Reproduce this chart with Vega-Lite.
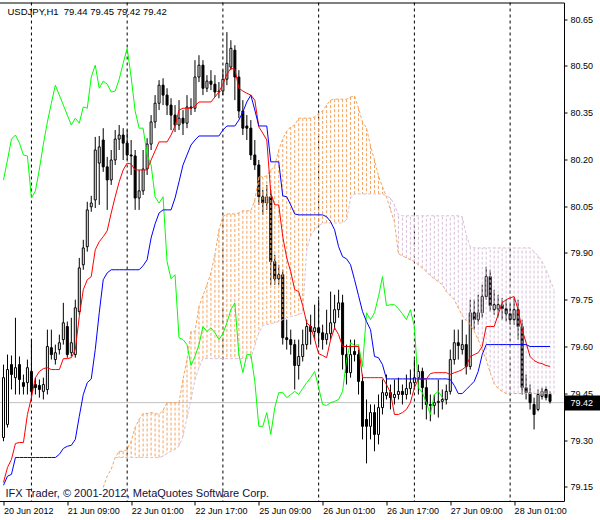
{
"$schema":"https://vega.github.io/schema/vega-lite/v6.json",
"width":600,"height":520,
"autosize":{"type":"fit","contains":"padding"},
"padding":{"left":-3.5,"top":1.5,"right":-8,"bottom":5},
"background":"white",
"resolve":{"axis":{"x":"independent","y":"independent"}},
"config":{"view":{"stroke":"black","strokeWidth":1},"axis":{"grid":false}},
"data":{"values":[
{"i":0,"o":79.308,"h":79.542,"l":79.296,"c":79.5,"t":79.164,"k":79.155,"ck":80.134},
{"i":1,"o":79.35,"h":79.574,"l":79.34,"c":79.526,"t":79.212,"k":79.184,"ck":80.198},
{"i":2,"o":79.542,"h":79.571,"l":79.462,"c":79.51,"t":79.238,"k":79.19,"ck":80.265},
{"i":3,"o":79.5,"h":79.692,"l":79.446,"c":79.532,"t":79.289,"k":79.244,"ck":80.278},
{"i":4,"o":79.542,"h":79.568,"l":79.446,"c":79.494,"t":79.292,"k":79.244,"ck":80.252},
{"i":5,"o":79.484,"h":79.51,"l":79.446,"c":79.472,"t":79.292,"k":79.244,"ck":80.214},
{"i":6,"o":79.484,"h":79.558,"l":79.446,"c":79.532,"t":79.382,"k":79.244,"ck":80.211},
{"i":7,"o":79.52,"h":79.622,"l":79.43,"c":79.456,"t":79.436,"k":79.244,"ck":80.076},
{"i":8,"o":79.478,"h":79.5,"l":79.446,"c":79.468,"t":79.5,"k":79.244,"ck":80.099},
{"i":9,"o":79.475,"h":79.494,"l":79.436,"c":79.462,"t":79.52,"k":79.244,"ck":80.169},
{"i":10,"o":79.456,"h":79.5,"l":79.43,"c":79.478,"t":79.529,"k":79.244,"ck":80.249},
{"i":11,"o":79.462,"h":79.654,"l":79.446,"c":79.6,"t":79.532,"k":79.244,"ck":80.32},
{"i":12,"o":79.596,"h":79.654,"l":79.558,"c":79.574,"t":79.526,"k":79.244,"ck":80.38},
{"i":13,"o":79.558,"h":79.606,"l":79.542,"c":79.58,"t":79.526,"k":79.244,"ck":80.438},
{"i":14,"o":79.59,"h":79.638,"l":79.574,"c":79.612,"t":79.526,"k":79.254,"ck":80.406},
{"i":15,"o":79.622,"h":79.74,"l":79.606,"c":79.676,"t":79.561,"k":79.273,"ck":80.374},
{"i":16,"o":79.664,"h":79.68,"l":79.564,"c":79.574,"t":79.561,"k":79.28,"ck":80.342},
{"i":17,"o":79.58,"h":79.692,"l":79.568,"c":79.612,"t":79.564,"k":79.283,"ck":80.31},
{"i":18,"o":79.574,"h":79.75,"l":79.564,"c":79.724,"t":79.59,"k":79.302,"ck":80.332},
{"i":19,"o":79.712,"h":79.884,"l":79.702,"c":79.852,"t":79.696,"k":79.376,"ck":80.316},
{"i":20,"o":79.862,"h":79.942,"l":79.846,"c":79.916,"t":79.782,"k":79.446,"ck":80.368},
{"i":21,"o":79.92,"h":80.064,"l":79.904,"c":80.038,"t":79.814,"k":79.484,"ck":80.364},
{"i":22,"o":80.048,"h":80.083,"l":80.032,"c":80.06,"t":79.824,"k":79.496,"ck":80.464},
{"i":23,"o":80.07,"h":80.272,"l":80.044,"c":80.23,"t":79.91,"k":79.59,"ck":80.502},
{"i":24,"o":80.188,"h":80.275,"l":80.054,"c":80.24,"t":79.936,"k":79.708,"ck":80.428},
{"i":25,"o":80.262,"h":80.3,"l":80.16,"c":80.176,"t":79.952,"k":79.814,"ck":80.451,"a":79.148},
{"i":26,"o":80.176,"h":80.208,"l":80.038,"c":80.134,"t":79.971,"k":79.836,"ck":80.441,"a":79.184},
{"i":27,"o":80.134,"h":80.23,"l":80.118,"c":80.198,"t":80.028,"k":79.846,"ck":80.416,"a":79.206},
{"i":28,"o":80.198,"h":80.294,"l":80.182,"c":80.265,"t":80.08,"k":79.846,"ck":80.419,"a":79.244,"b":79.244},
{"i":29,"o":80.265,"h":80.31,"l":80.23,"c":80.278,"t":80.128,"k":79.846,"ck":80.457,"a":79.264,"b":79.244},
{"i":30,"o":80.278,"h":80.3,"l":80.198,"c":80.252,"t":80.166,"k":79.846,"ck":80.508,"a":79.264,"b":79.244},
{"i":31,"o":80.252,"h":80.294,"l":80.198,"c":80.214,"t":80.188,"k":79.846,"ck":80.556,"a":79.27,"b":79.244},
{"i":32,"o":80.214,"h":80.262,"l":80.15,"c":80.211,"t":80.185,"k":79.846,"ck":80.464,"a":79.296,"b":79.244},
{"i":33,"o":80.211,"h":80.23,"l":80.038,"c":80.076,"t":80.166,"k":79.846,"ck":80.355,"a":79.34,"b":79.244},
{"i":34,"o":80.076,"h":80.166,"l":80.038,"c":80.099,"t":80.166,"k":79.846,"ck":80.3,"a":79.366,"b":79.244},
{"i":35,"o":80.099,"h":80.23,"l":80.086,"c":80.169,"t":80.166,"k":79.859,"ck":80.3,"a":79.385,"b":79.244},
{"i":36,"o":80.169,"h":80.268,"l":80.15,"c":80.249,"t":80.166,"k":79.878,"ck":80.214,"a":79.385,"b":79.244},
{"i":37,"o":80.249,"h":80.342,"l":80.23,"c":80.32,"t":80.198,"k":79.948,"ck":80.182,"a":79.388,"b":79.244},
{"i":38,"o":80.32,"h":80.406,"l":80.3,"c":80.38,"t":80.227,"k":79.993,"ck":80.08,"a":79.385,"b":79.244},
{"i":39,"o":80.38,"h":80.454,"l":80.358,"c":80.438,"t":80.256,"k":80.028,"ck":80.06,"a":79.382,"b":79.244},
{"i":40,"o":80.438,"h":80.46,"l":80.374,"c":80.406,"t":80.256,"k":80.038,"ck":80.08,"a":79.395,"b":79.248},
{"i":41,"o":80.406,"h":80.428,"l":80.342,"c":80.374,"t":80.256,"k":80.038,"ck":79.872,"a":79.42,"b":79.257},
{"i":42,"o":80.374,"h":80.396,"l":80.294,"c":80.342,"t":80.278,"k":80.038,"ck":79.817,"a":79.42,"b":79.264},
{"i":43,"o":80.342,"h":80.374,"l":80.288,"c":80.31,"t":80.307,"k":80.076,"ck":79.83,"a":79.42,"b":79.27},
{"i":44,"o":80.31,"h":80.39,"l":80.294,"c":80.332,"t":80.358,"k":80.128,"ck":79.628,"a":79.42,"b":79.28},
{"i":45,"o":80.332,"h":80.358,"l":80.278,"c":80.316,"t":80.364,"k":80.182,"ck":79.622,"a":79.494,"b":79.312},
{"i":46,"o":80.316,"h":80.406,"l":80.3,"c":80.368,"t":80.364,"k":80.214,"ck":79.606,"a":79.558,"b":79.372},
{"i":47,"o":80.368,"h":80.396,"l":80.342,"c":80.364,"t":80.364,"k":80.246,"ck":79.539,"a":79.648,"b":79.43},
{"i":48,"o":80.364,"h":80.518,"l":80.352,"c":80.464,"t":80.371,"k":80.262,"ck":79.568,"a":79.648,"b":79.494},
{"i":49,"o":80.464,"h":80.534,"l":80.448,"c":80.502,"t":80.384,"k":80.275,"ck":79.606,"a":79.728,"b":79.532},
{"i":50,"o":80.502,"h":80.518,"l":80.406,"c":80.428,"t":80.384,"k":80.275,"ck":79.664,"a":79.763,"b":79.561},
{"i":51,"o":80.428,"h":80.47,"l":80.416,"c":80.451,"t":80.384,"k":80.275,"ck":79.648,"a":79.798,"b":79.561},
{"i":52,"o":80.451,"h":80.486,"l":80.422,"c":80.441,"t":80.384,"k":80.275,"ck":79.66,"a":79.836,"b":79.561},
{"i":53,"o":80.441,"h":80.47,"l":80.4,"c":80.416,"t":80.4,"k":80.275,"ck":79.644,"a":79.894,"b":79.561},
{"i":54,"o":80.416,"h":80.448,"l":80.396,"c":80.419,"t":80.416,"k":80.275,"ck":79.622,"a":79.974,"b":79.561},
{"i":55,"o":80.419,"h":80.486,"l":80.406,"c":80.457,"t":80.441,"k":80.294,"ck":79.641,"a":80.016,"b":79.561},
{"i":56,"o":80.457,"h":80.608,"l":80.438,"c":80.508,"t":80.473,"k":80.307,"ck":79.676,"a":80.025,"b":79.561},
{"i":57,"o":80.496,"h":80.582,"l":80.486,"c":80.556,"t":80.492,"k":80.307,"ck":79.718,"a":80.025,"b":79.561},
{"i":58,"o":80.55,"h":80.566,"l":80.39,"c":80.464,"t":80.489,"k":80.307,"ck":79.74,"a":80.025,"b":79.561},
{"i":59,"o":80.464,"h":80.486,"l":80.332,"c":80.355,"t":80.428,"k":80.326,"ck":79.574,"a":80.028,"b":79.561},
{"i":60,"o":80.355,"h":80.39,"l":80.278,"c":80.3,"t":80.419,"k":80.352,"ck":79.516,"a":80.035,"b":79.561},
{"i":61,"o":80.307,"h":80.342,"l":80.262,"c":80.3,"t":80.412,"k":80.384,"ck":79.574,"a":80.035,"b":79.561},
{"i":62,"o":80.3,"h":80.326,"l":80.198,"c":80.214,"t":80.406,"k":80.406,"ck":79.574,"a":80.035,"b":79.561},
{"i":63,"o":80.214,"h":80.262,"l":80.166,"c":80.182,"t":80.39,"k":80.358,"ck":79.488,"a":80.07,"b":79.603},
{"i":64,"o":80.182,"h":80.198,"l":80.054,"c":80.08,"t":80.304,"k":80.307,"ck":79.344,"a":80.144,"b":79.644},
{"i":65,"o":80.08,"h":80.102,"l":80.022,"c":80.06,"t":80.284,"k":80.307,"ck":79.344,"a":80.144,"b":79.667},
{"i":66,"o":80.06,"h":80.118,"l":80.038,"c":80.08,"t":80.262,"k":80.307,"ck":79.388,"a":80.147,"b":79.67},
{"i":67,"o":80.08,"h":80.102,"l":79.798,"c":79.872,"t":80.092,"k":80.192,"ck":79.318,"a":80.166,"b":79.673},
{"i":68,"o":79.872,"h":79.894,"l":79.798,"c":79.817,"t":80.054,"k":80.192,"ck":79.404,"a":80.179,"b":79.676},
{"i":69,"o":79.817,"h":79.862,"l":79.798,"c":79.83,"t":80.054,"k":80.192,"ck":79.452,"a":80.23,"b":79.68},
{"i":70,"o":79.83,"h":79.846,"l":79.606,"c":79.628,"t":79.952,"k":80.083,"ck":79.452,"a":80.265,"b":79.686},
{"i":71,"o":79.628,"h":79.686,"l":79.59,"c":79.622,"t":79.884,"k":80.08,"ck":79.436,"a":80.291,"b":79.692},
{"i":72,"o":79.622,"h":79.654,"l":79.574,"c":79.606,"t":79.84,"k":80.054,"ck":79.446,"a":80.304,"b":79.696},
{"i":73,"o":79.606,"h":79.622,"l":79.462,"c":79.539,"t":79.782,"k":80.025,"ck":79.456,"a":80.31,"b":79.699},
{"i":74,"o":79.539,"h":79.622,"l":79.494,"c":79.568,"t":79.776,"k":80.022,"ck":79.446,"a":80.332,"b":79.702},
{"i":75,"o":79.568,"h":79.654,"l":79.552,"c":79.606,"t":79.731,"k":80.022,"ck":79.465,"a":80.332,"b":79.708},
{"i":76,"o":79.606,"h":79.686,"l":79.59,"c":79.664,"t":79.676,"k":80.022,"ck":79.484,"a":80.332,"b":79.91},
{"i":77,"o":79.664,"h":79.702,"l":79.606,"c":79.648,"t":79.664,"k":80.022,"ck":79.5,"a":80.332,"b":79.955},
{"i":78,"o":79.648,"h":79.734,"l":79.622,"c":79.66,"t":79.622,"k":80.022,"ck":79.52,"a":80.336,"b":79.974},
{"i":79,"o":79.66,"h":79.75,"l":79.606,"c":79.644,"t":79.577,"k":80.022,"ck":79.468,"a":80.348,"b":79.987},
{"i":80,"o":79.644,"h":79.67,"l":79.59,"c":79.622,"t":79.571,"k":80.022,"ck":79.414,"a":80.355,"b":79.996},
{"i":81,"o":79.622,"h":79.718,"l":79.606,"c":79.641,"t":79.564,"k":80.016,"ck":79.411,"a":80.374,"b":79.996},
{"i":82,"o":79.641,"h":79.776,"l":79.622,"c":79.676,"t":79.622,"k":80.0,"ck":79.42,"a":80.39,"b":79.996},
{"i":83,"o":79.676,"h":79.766,"l":79.654,"c":79.718,"t":79.66,"k":79.974,"ck":79.424,"a":80.393,"b":79.996},
{"i":84,"o":79.718,"h":79.782,"l":79.692,"c":79.74,"t":79.638,"k":79.92,"ck":79.43,"a":80.393,"b":79.996},
{"i":85,"o":79.74,"h":79.766,"l":79.526,"c":79.574,"t":79.6,"k":79.888,"ck":79.456,"a":80.393,"b":79.996},
{"i":86,"o":79.574,"h":79.606,"l":79.478,"c":79.516,"t":79.6,"k":79.881,"ck":79.558,"a":80.393,"b":80.006},
{"i":87,"o":79.516,"h":79.622,"l":79.5,"c":79.574,"t":79.6,"k":79.862,"ck":79.612,"a":80.4,"b":80.076},
{"i":88,"o":79.584,"h":79.622,"l":79.552,"c":79.574,"t":79.6,"k":79.814,"ck":79.603,"a":80.403,"b":80.089},
{"i":89,"o":79.574,"h":79.59,"l":79.446,"c":79.488,"t":79.6,"k":79.763,"ck":79.606,"a":80.364,"b":80.089},
{"i":90,"o":79.488,"h":79.51,"l":79.302,"c":79.344,"t":79.5,"k":79.712,"ck":79.536,"a":80.32,"b":80.089},
{"i":91,"o":79.366,"h":79.43,"l":79.225,"c":79.344,"t":79.5,"k":79.68,"ck":79.708,"a":80.3,"b":80.089},
{"i":92,"o":79.344,"h":79.414,"l":79.302,"c":79.388,"t":79.5,"k":79.654,"ck":79.686,"a":80.243,"b":80.089},
{"i":93,"o":79.388,"h":79.414,"l":79.264,"c":79.318,"t":79.5,"k":79.568,"ck":79.708,"a":80.198,"b":80.089},
{"i":94,"o":79.318,"h":79.446,"l":79.286,"c":79.404,"t":79.5,"k":79.564,"ck":79.76,"a":80.147,"b":80.089},
{"i":95,"o":79.404,"h":79.494,"l":79.382,"c":79.452,"t":79.5,"k":79.542,"ck":79.824,"a":80.112,"b":80.089},
{"i":96,"o":79.443,"h":79.51,"l":79.43,"c":79.452,"t":79.478,"k":79.496,"ck":79.731,"a":80.08,"b":80.083},
{"i":97,"o":79.452,"h":79.478,"l":79.398,"c":79.436,"t":79.452,"k":79.496,"ck":79.734,"a":80.038,"b":80.076},
{"i":98,"o":79.436,"h":79.494,"l":79.414,"c":79.446,"t":79.382,"k":79.496,"ck":79.734,"a":80.0,"b":80.054},
{"i":99,"o":79.446,"h":79.5,"l":79.43,"c":79.456,"t":79.382,"k":79.496,"ck":79.721,"a":79.897,"b":80.022},
{"i":100,"o":79.456,"h":79.478,"l":79.414,"c":79.446,"t":79.388,"k":79.496,"ck":79.705,"a":79.891,"b":80.019},
{"i":101,"o":79.446,"h":79.51,"l":79.43,"c":79.465,"t":79.398,"k":79.496,"ck":79.686,"a":79.884,"b":80.019},
{"i":102,"o":79.465,"h":79.526,"l":79.446,"c":79.484,"t":79.42,"k":79.496,"ck":79.718,"a":79.878,"b":80.019},
{"i":103,"o":79.484,"h":79.558,"l":79.462,"c":79.5,"t":79.468,"k":79.496,"ck":79.664,"a":79.872,"b":80.019},
{"i":104,"o":79.5,"h":79.542,"l":79.446,"c":79.52,"t":79.496,"k":79.496,"ck":79.468,"a":79.862,"b":80.019},
{"i":105,"o":79.52,"h":79.532,"l":79.398,"c":79.468,"t":79.496,"k":79.496,"ck":79.452,"a":79.852,"b":80.019},
{"i":106,"o":79.468,"h":79.494,"l":79.366,"c":79.414,"t":79.496,"k":79.496,"ck":79.42,"a":79.84,"b":80.019},
{"i":107,"o":79.414,"h":79.446,"l":79.36,"c":79.411,"t":79.513,"k":79.496,"ck":79.382,"a":79.827,"b":80.019},
{"i":108,"o":79.411,"h":79.446,"l":79.382,"c":79.42,"t":79.516,"k":79.496,"ck":79.446,"a":79.817,"b":80.019},
{"i":109,"o":79.42,"h":79.494,"l":79.372,"c":79.424,"t":79.516,"k":79.496,"ck":79.456,"a":79.808,"b":80.019},
{"i":110,"o":79.424,"h":79.462,"l":79.398,"c":79.43,"t":79.516,"k":79.496,"ck":79.436,"a":79.798,"b":80.019},
{"i":111,"o":79.43,"h":79.478,"l":79.414,"c":79.456,"t":79.516,"k":79.496,"ck":79.424,"a":79.776,"b":80.019},
{"i":112,"o":79.456,"h":79.59,"l":79.446,"c":79.558,"t":79.51,"k":79.494,"a":79.763,"b":80.019},
{"i":113,"o":79.558,"h":79.654,"l":79.542,"c":79.612,"t":79.516,"k":79.475,"a":79.75,"b":80.019},
{"i":114,"o":79.612,"h":79.654,"l":79.558,"c":79.603,"t":79.52,"k":79.449,"a":79.724,"b":80.019},
{"i":115,"o":79.59,"h":79.686,"l":79.574,"c":79.606,"t":79.526,"k":79.449,"a":79.699,"b":80.016},
{"i":116,"o":79.606,"h":79.638,"l":79.51,"c":79.536,"t":79.536,"k":79.462,"a":79.683,"b":79.958},
{"i":117,"o":79.536,"h":79.75,"l":79.526,"c":79.708,"t":79.568,"k":79.475,"a":79.67,"b":79.92},
{"i":118,"o":79.708,"h":79.75,"l":79.654,"c":79.686,"t":79.574,"k":79.488,"a":79.648,"b":79.916},
{"i":119,"o":79.686,"h":79.766,"l":79.67,"c":79.708,"t":79.58,"k":79.52,"a":79.622,"b":79.916},
{"i":120,"o":79.708,"h":79.798,"l":79.692,"c":79.76,"t":79.6,"k":79.574,"a":79.59,"b":79.916},
{"i":121,"o":79.76,"h":79.856,"l":79.75,"c":79.824,"t":79.664,"k":79.606,"a":79.558,"b":79.916},
{"i":122,"o":79.824,"h":79.846,"l":79.712,"c":79.731,"t":79.664,"k":79.606,"a":79.516,"b":79.916},
{"i":123,"o":79.718,"h":79.782,"l":79.702,"c":79.734,"t":79.664,"k":79.606,"a":79.481,"b":79.916},
{"i":124,"o":79.721,"h":79.766,"l":79.692,"c":79.734,"t":79.702,"k":79.606,"a":79.465,"b":79.916},
{"i":125,"o":79.734,"h":79.756,"l":79.686,"c":79.721,"t":79.74,"k":79.606,"a":79.456,"b":79.916},
{"i":126,"o":79.721,"h":79.75,"l":79.68,"c":79.705,"t":79.75,"k":79.606,"a":79.449,"b":79.916},
{"i":127,"o":79.705,"h":79.734,"l":79.67,"c":79.686,"t":79.756,"k":79.606,"a":79.449,"b":79.916},
{"i":128,"o":79.686,"h":79.756,"l":79.67,"c":79.718,"t":79.76,"k":79.606,"a":79.449,"b":79.916},
{"i":129,"o":79.718,"h":79.75,"l":79.622,"c":79.664,"t":79.718,"k":79.606,"a":79.449,"b":79.916},
{"i":130,"o":79.664,"h":79.686,"l":79.446,"c":79.468,"t":79.654,"k":79.606,"a":79.449,"b":79.916},
{"i":131,"o":79.468,"h":79.51,"l":79.43,"c":79.452,"t":79.612,"k":79.606,"a":79.449,"b":79.916},
{"i":132,"o":79.452,"h":79.478,"l":79.398,"c":79.42,"t":79.568,"k":79.6,"a":79.449,"b":79.916},
{"i":133,"o":79.414,"h":79.436,"l":79.334,"c":79.382,"t":79.555,"k":79.6,"a":79.449,"b":79.904},
{"i":134,"o":79.398,"h":79.462,"l":79.392,"c":79.446,"t":79.548,"k":79.6,"a":79.449,"b":79.891},
{"i":135,"o":79.44,"h":79.468,"l":79.43,"c":79.456,"t":79.545,"k":79.6,"a":79.449,"b":79.872},
{"i":136,"o":79.462,"h":79.472,"l":79.427,"c":79.436,"t":79.539,"k":79.6,"a":79.449,"b":79.846},
{"i":137,"o":79.446,"h":79.456,"l":79.417,"c":79.424,"t":79.536,"k":79.6,"a":79.449,"b":79.814},
{"i":138,"a":79.449,"b":79.782}
]},
"layer":[
{"data":{"values":[{"i":7},{"i":31},{"i":55},{"i":79},{"i":103},{"i":127}]},
 "mark":{"type":"rule","color":"black","strokeWidth":1,"strokeDash":[3,3]},
 "encoding":{"x":{"field":"i","type":"quantitative","scale":{"domain":[-0.25,139.25],"nice":false,"zero":false},"axis":null}}},
{"data":{"values":[{"p":79.42}]},
 "mark":{"type":"rule","color":"#C0C0C0","strokeWidth":1},
 "encoding":{"y":{"field":"p","type":"quantitative","scale":{"domain":[79.1045,80.703],"nice":false,"zero":false},
   "axis":{"orient":"right","values":[79.42],"format":".2f","title":null,"grid":false,"domain":false,"ticks":true,"tickSize":36,"tickWidth":15,"tickColor":"black","tickCap":"butt","labelColor":"white","labelFont":"Liberation Sans","labelFontSize":9,"labelPadding":-30,"labelAlign":"left","labelFlush":false,"labelOverlap":false,"labelBound":false,"zindex":1}}}},
{"transform":[{"filter":"isValid(datum.h)"}],
 "mark":{"type":"rule","color":"black","strokeWidth":1},
 "encoding":{"x":{"field":"i","type":"quantitative","scale":{"domain":[-0.25,139.25],"nice":false,"zero":false},"axis":null},
  "y":{"field":"l","type":"quantitative","scale":{"domain":[79.1045,80.703],"nice":false,"zero":false},"axis":null},
  "y2":{"field":"h"}}},
{"transform":[{"filter":"isValid(datum.o)"}],
 "mark":{"type":"bar","orient":"vertical","size":2,"stroke":"black","strokeWidth":1},
 "encoding":{"x":{"field":"i","type":"quantitative","scale":{"domain":[-0.25,139.25],"nice":false,"zero":false},
   "axis":{"orient":"bottom","values":[0,16,32,48,64,80,96,112,128],"labelExpr":"['20 Jun 2012','21 Jun 09:00','22 Jun 01:00','22 Jun 17:00','25 Jun 09:00','26 Jun 01:00','26 Jun 17:00','27 Jun 09:00','28 Jun 01:00'][round(datum.value/16)]","title":null,"grid":false,"domain":false,"ticks":true,"tickSize":4,"tickColor":"black","labelColor":"black","labelFont":"Liberation Sans","labelFontSize":9,"labelAlign":"left","labelBaseline":"top","labelPadding":1,"labelDx":1,"labelFlush":false,"labelOverlap":false,"labelBound":false}},
  "y":{"field":"o","type":"quantitative","scale":{"domain":[79.1045,80.703],"nice":false,"zero":false},
   "axis":{"orient":"right","values":[79.15,79.3,79.45,79.6,79.75,79.9,80.05,80.2,80.35,80.5,80.65],"format":".2f","title":null,"grid":false,"domain":false,"ticks":true,"tickSize":3,"tickColor":"black","labelColor":"black","labelFont":"Liberation Sans","labelFontSize":9,"labelPadding":3,"labelFlush":false,"labelOverlap":false,"labelBound":false}},
  "y2":{"field":"c"},
  "fill":{"condition":{"test":"datum.c > datum.o","value":"white"},"value":"black"}}},
{"transform":[{"filter":"isValid(datum.a) && isValid(datum.b)"}],
 "mark":{"type":"rule","strokeWidth":1,"strokeDash":[3,2]},
 "encoding":{"x":{"field":"i","type":"quantitative","scale":{"domain":[-0.25,139.25],"nice":false,"zero":false},"axis":null},
  "y":{"field":"a","type":"quantitative","scale":{"domain":[79.1045,80.703],"nice":false,"zero":false},"axis":null},
  "y2":{"field":"b"},
  "color":{"condition":{"test":"datum.a > datum.b","value":"#F4A460"},"value":"#D8BFD8"}}},
{"transform":[{"filter":"isValid(datum.a)"}],
 "mark":{"type":"line","color":"#F4A460","strokeWidth":1,"strokeDash":[3,2]},
 "encoding":{"x":{"field":"i","type":"quantitative","scale":{"domain":[-0.25,139.25],"nice":false,"zero":false},"axis":null},
  "y":{"field":"a","type":"quantitative","scale":{"domain":[79.1045,80.703],"nice":false,"zero":false},"axis":null}}},
{"transform":[{"filter":"isValid(datum.b)"}],
 "mark":{"type":"line","color":"#D8BFD8","strokeWidth":1,"strokeDash":[3,2]},
 "encoding":{"x":{"field":"i","type":"quantitative","scale":{"domain":[-0.25,139.25],"nice":false,"zero":false},"axis":null},
  "y":{"field":"b","type":"quantitative","scale":{"domain":[79.1045,80.703],"nice":false,"zero":false},"axis":null}}},
{"transform":[{"filter":"isValid(datum.ck)"}],
 "mark":{"type":"line","color":"#00FF00","strokeWidth":1},
 "encoding":{"x":{"field":"i","type":"quantitative","scale":{"domain":[-0.25,139.25],"nice":false,"zero":false},"axis":null},
  "y":{"field":"ck","type":"quantitative","scale":{"domain":[79.1045,80.703],"nice":false,"zero":false},"axis":null}}},
{"transform":[{"filter":"isValid(datum.t)"}],
 "mark":{"type":"line","color":"#FF0000","strokeWidth":1},
 "encoding":{"x":{"field":"i","type":"quantitative","scale":{"domain":[-0.25,139.25],"nice":false,"zero":false},"axis":null},
  "y":{"field":"t","type":"quantitative","scale":{"domain":[79.1045,80.703],"nice":false,"zero":false},"axis":null}}},
{"transform":[{"filter":"isValid(datum.k)"}],
 "mark":{"type":"line","color":"#0000FF","strokeWidth":1},
 "encoding":{"x":{"field":"i","type":"quantitative","scale":{"domain":[-0.25,139.25],"nice":false,"zero":false},"axis":null},
  "y":{"field":"k","type":"quantitative","scale":{"domain":[79.1045,80.703],"nice":false,"zero":false},"axis":null}}},
{"data":{"values":[{"t":"USDJPY,H1\u00a0 79.44 79.45 79.42 79.42"}]},
 "mark":{"type":"text","align":"left","baseline":"middle","font":"Liberation Sans","fontSize":9.5,"color":"black"},
 "encoding":{"x":{"datum":1,"type":"quantitative","scale":{"domain":[-0.25,139.25],"nice":false,"zero":false},"axis":null},
  "y":{"datum":80.674,"type":"quantitative","scale":{"domain":[79.1045,80.703],"nice":false,"zero":false},"axis":null},
  "text":{"field":"t"}}},
{"data":{"values":[{"t":"IFX Trader, © 2001-2012, MetaQuotes Software Corp."}]},
 "mark":{"type":"text","align":"left","baseline":"middle","font":"Liberation Sans","fontSize":11,"color":"#101040"},
 "encoding":{"x":{"datum":0.5,"type":"quantitative","scale":{"domain":[-0.25,139.25],"nice":false,"zero":false},"axis":null},
  "y":{"datum":79.127,"type":"quantitative","scale":{"domain":[79.1045,80.703],"nice":false,"zero":false},"axis":null},
  "text":{"field":"t"}}}
]
}
